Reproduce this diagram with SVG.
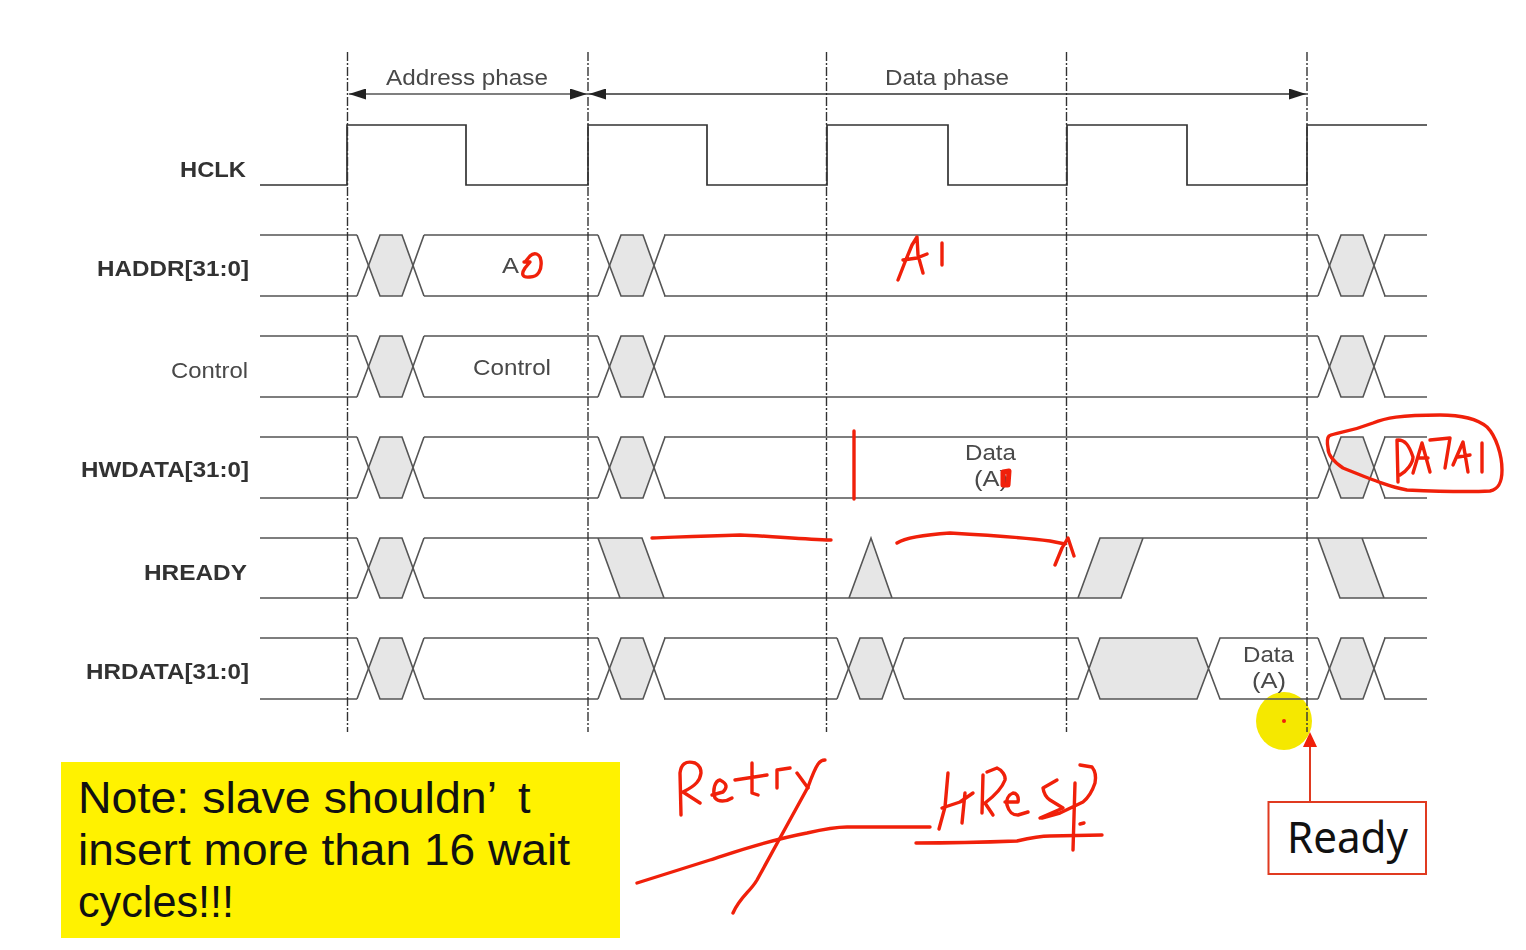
<svg xmlns="http://www.w3.org/2000/svg" xmlns:xlink="http://www.w3.org/1999/xlink" width="1526" height="950" viewBox="0 0 1526 950">
<style>
.l{fill:none;stroke:#555;stroke-width:1.6}
.d{fill:none;stroke:#333;stroke-width:1.7}
.g{fill:#e6e6e6;stroke:none}
.v{fill:none;stroke:#333;stroke-width:1.4;stroke-dasharray:9 2 2 2}
.r{fill:none;stroke:#f0200a;stroke-width:3.4;stroke-linecap:round;stroke-linejoin:round}
.t{font-family:"Liberation Sans",Arial,sans-serif;font-size:22px;fill:#484848}
.b{font-family:"Liberation Sans",Arial,sans-serif;font-size:22px;font-weight:bold;fill:#333}
.n{font-family:"Liberation Sans",Arial,sans-serif;font-size:45px;fill:#111}
</style>
<defs>
<filter id="soft" x="-2%" y="-2%" width="104%" height="104%"><feGaussianBlur stdDeviation="0.45"/></filter>
<marker id="ah" viewBox="0 0 17 11" refX="17" refY="5.5" markerWidth="17" markerHeight="11" markerUnits="userSpaceOnUse" orient="auto-start-reverse"><path d="M0 0L17 5.500L0 11Z" fill="#222"/></marker>
<g id="x"><polygon class="g" points="12,30.500 23,0 45,0 56,30.500 45,61 23,61"/><polyline class="l" points="0,0 23,61 45,61 67,0"/><polyline class="l" points="0,61 23,0 45,0 67,61"/></g>
</defs>
<rect width="1526" height="950" fill="#fff"/>
<ellipse id="pointer" cx="1284" cy="721" rx="28" ry="29" fill="#f5e800"/>
<g filter="url(#soft)">
<g id="hclk">
<text class="b" x="180" y="177" textLength="66" lengthAdjust="spacingAndGlyphs">HCLK</text>
<polyline class="d" points="260,185 347,185 347,125 466,125 466,185 588,185 588,125 707,125 707,185 827,185 827,125 948,125 948,185 1067,185 1067,125 1187,125 1187,185 1307,185 1307,125 1427,125"/>
</g>
<g id="haddr">
<text class="b" x="97" y="276" textLength="152" lengthAdjust="spacingAndGlyphs">HADDR[31:0]</text>
<path class="l" d="M260 235H357M424 235H598M664 235H1318M1384 235H1427M260 296H357M424 296H598M664 296H1318M1384 296H1427"/>
<use xlink:href="#x" href="#x" x="357" y="235"/><use xlink:href="#x" href="#x" x="598" y="235"/><use xlink:href="#x" href="#x" x="1318" y="235"/>
<text class="t" x="502" y="273" textLength="17" lengthAdjust="spacingAndGlyphs">A</text>
</g>
<g id="control">
<text class="t" x="171" y="378" textLength="77" lengthAdjust="spacingAndGlyphs">Control</text>
<path class="l" d="M260 336H357M424 336H598M664 336H1318M1384 336H1427M260 397H357M424 397H598M664 397H1318M1384 397H1427"/>
<use xlink:href="#x" href="#x" x="357" y="336"/><use xlink:href="#x" href="#x" x="598" y="336"/><use xlink:href="#x" href="#x" x="1318" y="336"/>
<text class="t" x="473" y="375" textLength="78" lengthAdjust="spacingAndGlyphs">Control</text>
</g>
<g id="hwdata">
<text class="b" x="81" y="477" textLength="168" lengthAdjust="spacingAndGlyphs">HWDATA[31:0]</text>
<path class="l" d="M260 437H357M424 437H598M664 437H1318M1384 437H1427M260 498H357M424 498H598M664 498H1318M1384 498H1427"/>
<use xlink:href="#x" href="#x" x="357" y="437"/><use xlink:href="#x" href="#x" x="598" y="437"/><use xlink:href="#x" href="#x" x="1318" y="437"/>
<text class="t" x="965" y="460" textLength="51" lengthAdjust="spacingAndGlyphs">Data</text>
<text class="t" x="974" y="486" textLength="34" lengthAdjust="spacingAndGlyphs">(A)</text>
</g>
<g id="hready">
<text class="b" x="144" y="580" textLength="103" lengthAdjust="spacingAndGlyphs">HREADY</text>
<polygon class="g" points="598,538 642,538 664,598 620,598"/>
<polygon class="g" points="849,598 871,538 892,598"/>
<polygon class="g" points="1078,598 1100,538 1143,538 1121,598"/>
<polygon class="g" points="1318,538 1362,538 1384,598 1340,598"/>
<use xlink:href="#x" href="#x" transform="translate(357,538) scale(1,0.984)"/>
<path class="l" d="M260 538H357M424 538H642L664 598H1078L1100 538H1427M260 598H357M424 598H664M620 598L598 538M849 598L871 538L892 598M1078 598H1121L1143 538M1318 538L1340 598H1427M1362 538L1384 598"/>
</g>
<g id="hrdata">
<text class="b" x="86" y="679" textLength="163" lengthAdjust="spacingAndGlyphs">HRDATA[31:0]</text>
<polygon class="g" points="1089,668.500 1100,638 1197,638 1208,668.500 1197,699 1100,699"/>
<path class="l" d="M260 638H357M424 638H598M664 638H837M904 638H1078L1100 699H1197L1220 638H1318M1384 638H1427M260 699H357M424 699H598M664 699H837M904 699H1078L1100 638H1197L1220 699H1318M1384 699H1427"/>
<use xlink:href="#x" href="#x" x="357" y="638"/><use xlink:href="#x" href="#x" x="598" y="638"/><use xlink:href="#x" href="#x" x="837" y="638"/><use xlink:href="#x" href="#x" x="1318" y="638"/>
<text class="t" x="1243" y="662" textLength="51" lengthAdjust="spacingAndGlyphs">Data</text>
<text class="t" x="1252" y="688" textLength="34" lengthAdjust="spacingAndGlyphs">(A)</text>
</g>
<g id="connectors">
<path class="v" d="M347.500 52V732M588 52V732M826.500 52V732M1066.500 52V732M1307 52V732"/>
<line x1="349" y1="94" x2="587" y2="94" stroke="#555" stroke-width="1.6" marker-start="url(#ah)" marker-end="url(#ah)"/>
<line x1="589" y1="94" x2="1306" y2="94" stroke="#333" stroke-width="1.6" marker-start="url(#ah)" marker-end="url(#ah)"/>
</g>
<g id="phases">
<text class="t" x="386" y="85" textLength="162" lengthAdjust="spacingAndGlyphs">Address phase</text>
<text class="t" x="885" y="85" textLength="124" lengthAdjust="spacingAndGlyphs">Data phase</text>
</g>
</g>
<g id="note">
<rect x="61" y="762" width="559" height="176" fill="#fff200"/>
<text class="n" x="78" y="813" textLength="419" lengthAdjust="spacingAndGlyphs">Note: slave shouldn’</text>
<text class="n" x="518" y="813">t</text>
<text class="n" x="78" y="865" textLength="492" lengthAdjust="spacingAndGlyphs">insert more than 16 wait</text>
<text class="n" x="78" y="917" textLength="156" lengthAdjust="spacingAndGlyphs">cycles!!!</text>
</g>
<g id="ready">
<rect x="1268.500" y="802" width="157.500" height="72" fill="#fff" stroke="#e03a20" stroke-width="2"/>
<text x="1287" y="853" textLength="121" lengthAdjust="spacingAndGlyphs" font-family="Noto Sans, sans-serif" font-size="44" fill="#111">Ready</text>
<line x1="1310" y1="802" x2="1310" y2="745" stroke="#e03a20" stroke-width="2"/>
<polygon points="1310,732 1317,747 1303,747" fill="#f0200a"/>
</g>
<circle cx="1284" cy="721" r="2" fill="#f0200a"/>
<g id="ink">
<path class="r" d="M524 262L530 262L525 268C521 274 522 278 530 277C538 277 542 270 541 261C540 253 534 252 530 256L525 262"/>
<path class="r" d="M898 280L905 262L912 245L917 237L918 255L923 273M903 260L917 258L927 254M942 243V265"/>
<path class="r" d="M854 431V499"/>
<path class="r" style="stroke-width:5" d="M1003 472L1009 471L1008 485L1003 485Z"/>
<path class="r" d="M652 538C680 537 700 536 740 535C770 536 800 539 831 540"/>
<path class="r" d="M897 543C905 538 920 535 950 533C985 535 1020 537 1050 541L1065 544M1055 565L1062 548L1068 538L1074 556"/>
<path class="r" d="M1329 436C1337 432 1347 433 1373 423C1385 418 1400 415 1440 415C1455 415 1475 417 1487 427C1496 436 1502 455 1502 470C1502 482 1499 489 1490 491C1470 492 1430 491 1407 490C1390 487 1373 480 1343 468C1334 462 1328 455 1328 448C1327 442 1327 438 1329 436Z"/>
<path class="r" d="M1397 440L1398 482M1398 440C1405 440 1409 445 1413 457C1413 463 1407 471 1400 475M1413 473L1422 443L1430 472M1418 458L1428 458M1430 440L1450 438L1445 468M1453 465L1463 442L1468 472M1458 457L1470 455M1482 443V472"/>
<path class="r" d="M681 815L680 773C681 765 685 760 695 763C699 765 701 769 701 773C700 780 697 785 683 792L700 803"/>
<path class="r" d="M712 795L723 792C727 788 728 784 720 780C715 781 712 790 715 798C718 802 726 802 732 798"/>
<path class="r" d="M752 763V793L758 795M735 780L767 775M777 788V770L790 768M797 773L808 788"/>
<path class="r" d="M825 760C820 760 817 762 808 787L780 838L757 880C750 892 740 897 733 913"/>
<path class="r" d="M637 883L710 860C735 852 765 841 807 833C820 830 835 827 847 827H930"/>
<path class="r" d="M948 773L945 807L939 829M942 808L960 802L973 793M965 793L962 823"/>
<path class="r" d="M982 813L983 775M987 772L997 768C1002 770 1006 776 1005 780C1002 788 997 794 985 803L993 815"/>
<path class="r" d="M1005 802H1018C1019 797 1017 793 1013 793C1008 795 1006 800 1007 805C1009 812 1012 815 1018 815L1028 812"/>
<path class="r" d="M1057 780L1043 788C1044 795 1047 798 1050 800L1063 808L1040 818"/>
<path class="r" d="M1075 783L1073 850M1080 765L1092 767C1096 772 1096 778 1095 783C1092 792 1088 798 1083 802L1060 813L1042 818M1080 824L1084 823"/>
<path class="r" d="M916 843C950 843 990 842 1017 841C1030 838 1040 836 1050 836L1102 835"/>
</g>
</svg>
